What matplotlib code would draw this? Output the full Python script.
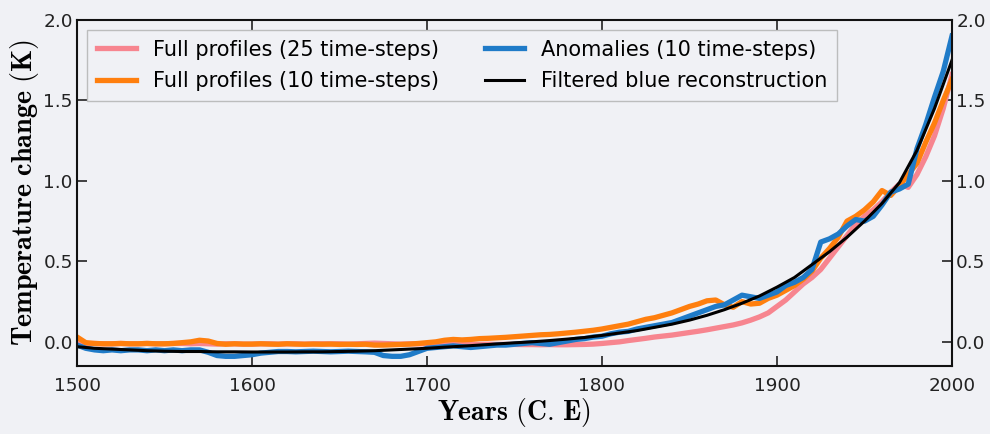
import numpy as np
import matplotlib
matplotlib.use('Agg')
import matplotlib.pyplot as plt

plt.rcParams['mathtext.fontset'] = 'cm'

# 5-year grid for the noisy reconstructions
years = np.arange(1500, 2001, 5)

full25 = [
    0.0, -0.01, -0.01, -0.012, -0.012, -0.01, -0.012, -0.012, -0.01, -0.012,
    -0.012, -0.01, -0.01, -0.012, -0.01, -0.012, -0.014, -0.012, -0.012, -0.014,
    -0.014, -0.012, -0.012, -0.014, -0.012, -0.012, -0.014, -0.012, -0.012, -0.012,
    -0.012, -0.014, -0.012, -0.01, -0.008, -0.01, -0.012, -0.014, -0.012, -0.012,
    -0.012, -0.012, -0.014, -0.012, -0.014, -0.015, -0.016, -0.015, -0.016, -0.016,
    -0.016, -0.017, -0.017, -0.018, -0.017, -0.018, -0.018, -0.017, -0.016, -0.014,
    -0.01, -0.005, 0.0, 0.008, 0.015, 0.022, 0.03, 0.036, 0.042, 0.05,
    0.058, 0.066, 0.075, 0.085, 0.095, 0.105, 0.118, 0.135, 0.155, 0.18,
    0.22, 0.26, 0.31, 0.36, 0.40, 0.45, 0.52, 0.59, 0.66, 0.73,
    0.78, 0.82, 0.87, 0.93, 0.98, 0.96, 1.04, 1.15, 1.28, 1.45,
    1.66]

full10 = [
    0.03, -0.005, -0.01, -0.012, -0.012, -0.01, -0.012, -0.012, -0.01, -0.012,
    -0.012, -0.01, -0.005, 0.0, 0.01, 0.005, -0.01, -0.015, -0.012, -0.014,
    -0.014, -0.012, -0.014, -0.015, -0.012, -0.014, -0.015, -0.014, -0.015, -0.014,
    -0.016, -0.015, -0.016, -0.015, -0.02, -0.02, -0.018, -0.016, -0.014, -0.01,
    -0.005, 0.0, 0.01, 0.015, 0.012, 0.015, 0.02, 0.022, 0.025, 0.028,
    0.032, 0.036, 0.04, 0.044, 0.046, 0.05, 0.055, 0.06, 0.066, 0.072,
    0.08, 0.09, 0.10, 0.11, 0.125, 0.14, 0.15, 0.165, 0.18, 0.20,
    0.22, 0.235, 0.255, 0.26, 0.23, 0.215, 0.25, 0.235, 0.24, 0.27,
    0.29, 0.32, 0.35, 0.39, 0.44, 0.52, 0.58, 0.65, 0.75, 0.78,
    0.82, 0.87, 0.94, 0.91, 0.97, 1.04, 1.11, 1.24, 1.36, 1.50,
    1.63]

anom10 = [
    -0.02, -0.04, -0.05, -0.055, -0.05, -0.055, -0.05, -0.05, -0.055, -0.05,
    -0.055, -0.05, -0.055, -0.05, -0.05, -0.065, -0.085, -0.09, -0.09, -0.085,
    -0.08, -0.07, -0.065, -0.06, -0.06, -0.062, -0.06, -0.058, -0.06, -0.062,
    -0.06, -0.058, -0.06, -0.062, -0.065, -0.085, -0.09, -0.09, -0.08, -0.06,
    -0.04, -0.035, -0.03, -0.025, -0.03, -0.035, -0.03, -0.025, -0.02, -0.02,
    -0.015, -0.01, -0.005, -0.01, -0.015, -0.005, 0.005, 0.015, 0.02, 0.03,
    0.035, 0.05, 0.06, 0.065, 0.08, 0.09, 0.10, 0.11, 0.12, 0.14,
    0.16, 0.18, 0.20, 0.22, 0.23, 0.26, 0.29, 0.28, 0.27, 0.29,
    0.31, 0.35, 0.37, 0.40, 0.45, 0.62, 0.64, 0.67, 0.72, 0.76,
    0.75, 0.78, 0.85, 0.93, 0.95, 0.98, 1.20, 1.35, 1.52, 1.68,
    1.90]

# filtered reconstruction, 10-year grid
years_f = np.arange(1500, 2001, 10)
filtered = [
    -0.03, -0.04, -0.045, -0.05, -0.055, -0.058, -0.06, -0.06, -0.062, -0.062,
    -0.063, -0.063, -0.063, -0.062, -0.062, -0.06, -0.058, -0.055, -0.05, -0.045,
    -0.04, -0.033, -0.027, -0.02, -0.013, -0.006, 0.0, 0.008, 0.017, 0.027,
    0.04, 0.055, 0.07, 0.09, 0.11, 0.135, 0.165, 0.20, 0.24, 0.285,
    0.34, 0.40, 0.48, 0.56, 0.65, 0.75, 0.86, 0.99, 1.19, 1.45,
    1.75]

bg = '#f0f1f5'
fig = plt.figure(figsize=(9.9, 4.34), dpi=100, facecolor=bg)
ax = fig.add_axes([0.0778, 0.1567, 0.8838, 0.7973])
ax.set_facecolor(bg)

ax.plot(years, full25, color='#f7858f', lw=3.8, label='Full profiles (25 time-steps)')
ax.plot(years, full10, color='#ff7f0e', lw=3.8, label='Full profiles (10 time-steps)')
ax.plot(years, anom10, color='#1f7bc8', lw=3.8, label='Anomalies (10 time-steps)')
ax.plot(years_f, filtered, color='black', lw=2.2, label='Filtered blue reconstruction')

ax.set_xlim(1500, 2000)
ax.set_ylim(-0.15, 2.0)
ax.set_xticks([1500, 1600, 1700, 1800, 1900, 2000])
ax.set_yticks([0.0, 0.5, 1.0, 1.5, 2.0])

ax.tick_params(direction='in', length=7, width=1.2, labelsize=13.3,
               top=True, right=True, labelright=True, colors='#222222')
ax.tick_params(axis='x', pad=8)
ax.tick_params(axis='y', pad=3)
for s in ax.spines.values():
    s.set_linewidth(1.5)
    s.set_color('#111111')

ax.set_ylabel(r'$\mathbf{Temperature\ change\ (K)}$', fontsize=20.3, labelpad=2)
ax.set_xlabel(r'$\mathbf{Years\ (C.\,E)}$', fontsize=20, labelpad=1)

leg = ax.legend(loc='upper left', ncol=2, fontsize=15, frameon=True,
                fancybox=False, handlelength=1.9, columnspacing=2.2,
                labelspacing=0.55, borderpad=0.45)
leg.get_frame().set_edgecolor('#b0b0b0')
leg.get_frame().set_facecolor(bg)
leg.get_frame().set_linewidth(1.0)

fig.savefig('out.png', dpi=100, facecolor=bg)
